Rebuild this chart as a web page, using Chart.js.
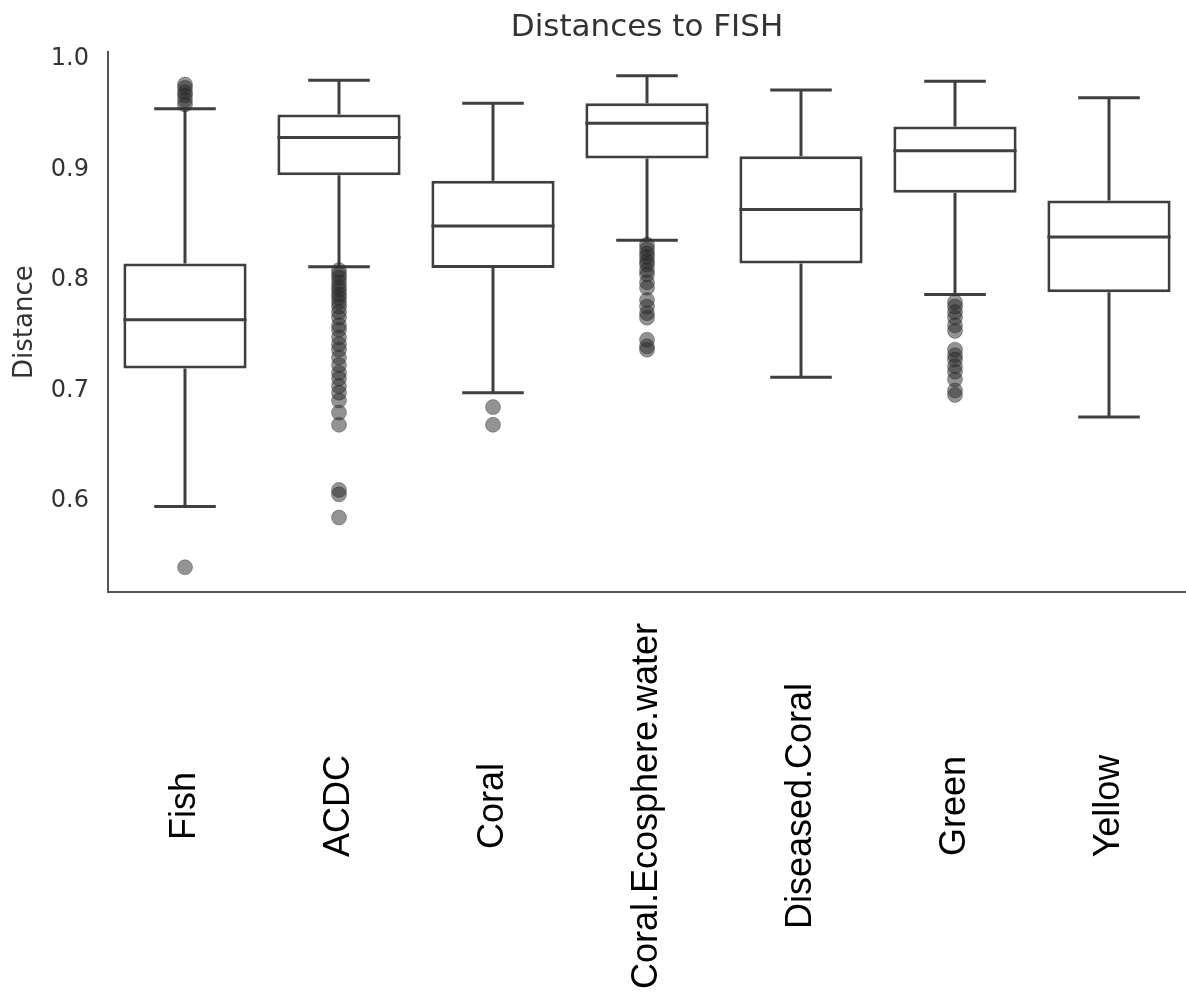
<!DOCTYPE html>
<html>
<head>
<meta charset="utf-8">
<title>Distances to FISH</title>
<script src="https://cdn.jsdelivr.net/npm/chart.js@4.4.1/dist/chart.umd.min.js"></script>
<style>
  html, body { margin: 0; padding: 0; background: #ffffff; }
  #wrap { width: 1186px; height: 1000px; }
</style>
</head>
<body>
<div id="wrap"><canvas id="distChart"></canvas></div>
<script>
// Categories and box statistics
const categories = ['Fish', 'ACDC', 'Coral', 'Coral.Ecosphere.water', 'Diseased.Coral', 'Green', 'Yellow'];
const whiskerLow  = [0.595, 0.812, 0.698, 0.836, 0.712, 0.787, 0.676];
const q1          = [0.720, 0.895, 0.811, 0.910, 0.815, 0.879, 0.789];
const medians     = [0.764, 0.929, 0.849, 0.942, 0.864, 0.917, 0.839];
const q3          = [0.815, 0.950, 0.890, 0.960, 0.912, 0.939, 0.872];
const whiskerHigh = [0.955, 0.981, 0.960, 0.985, 0.972, 0.980, 0.965];

// Outliers per category
const outliersFish = [0.977, 0.974, 0.970, 0.967, 0.963, 0.959, 0.540];
const outliersACDC = [0.809, 0.805, 0.802, 0.798, 0.794, 0.791, 0.787, 0.784, 0.780, 0.776,
                      0.771, 0.766, 0.759, 0.755, 0.748, 0.742, 0.737, 0.730, 0.723, 0.716,
                      0.711, 0.704, 0.698, 0.691, 0.680, 0.669, 0.610, 0.606, 0.585];
const outliersCoral = [0.685, 0.669];
const outliersEcosphere = [0.832, 0.828, 0.824, 0.821, 0.817, 0.814, 0.809, 0.805, 0.798, 0.793,
                           0.782, 0.776, 0.770, 0.766, 0.746, 0.740, 0.737];
const outliersDiseased = [];
const outliersGreen = [0.780, 0.776, 0.771, 0.766, 0.759, 0.754, 0.737, 0.732, 0.728, 0.722,
                       0.717, 0.710, 0.700, 0.696];
const outliersYellow = [];

const yTicks = [0.6, 0.7, 0.8, 0.9, 1.0];
const yMin = 0.5176;
const yMax = 1.0063;

const LINE = '#3f3f3f';
const TEXT = '#333333';

const outlierLists = [outliersFish, outliersACDC, outliersCoral, outliersEcosphere,
                      outliersDiseased, outliersGreen, outliersYellow];
const outlierPoints = [];
outlierLists.forEach((list, i) => {
    list.forEach(v => outlierPoints.push({ x: categories[i], y: v }));
});

/**
 * Whiskers, caps and medians, drawn right after the boxes
 */
const boxExtras = {
    id: 'boxExtras',
    afterDatasetDraw(chart, args) {
        if (args.index !== 0) return;
        const ctx = chart.ctx;
        const xs = chart.scales.x;
        const ys = chart.scales.y;
        const meta = chart.getDatasetMeta(0);
        ctx.save();
        ctx.strokeStyle = LINE;
        ctx.lineWidth = 3;
        ctx.lineCap = 'butt';
        categories.forEach((c, i) => {
            const x = xs.getPixelForValue(i);
            const half = meta.data[i].width / 2;
            const capHalf = half / 2;
            const yLo = ys.getPixelForValue(whiskerLow[i]);
            const yHi = ys.getPixelForValue(whiskerHigh[i]);
            const yQ1 = ys.getPixelForValue(q1[i]);
            const yQ3 = ys.getPixelForValue(q3[i]);
            const yMed = ys.getPixelForValue(medians[i]);
            ctx.beginPath();
            // whiskers
            ctx.moveTo(x, yQ3); ctx.lineTo(x, yHi);
            ctx.moveTo(x, yQ1); ctx.lineTo(x, yLo);
            // caps
            ctx.moveTo(x - capHalf, yHi); ctx.lineTo(x + capHalf, yHi);
            ctx.moveTo(x - capHalf, yLo); ctx.lineTo(x + capHalf, yLo);
            // median
            ctx.moveTo(x - half, yMed); ctx.lineTo(x + half, yMed);
            ctx.stroke();
        });
        ctx.restore();
    }
};

/**
 * Rotated category labels, centred in the space under the axis
 */
const catLabels = {
    id: 'catLabels',
    afterDraw(chart) {
        const ctx = chart.ctx;
        const xs = chart.scales.x;
        const yc = (xs.top + xs.bottom) / 2 + 10;
        ctx.save();
        ctx.fillStyle = '#000000';
        ctx.font = "36px 'Liberation Sans', Arial, sans-serif";
        ctx.textAlign = 'center';
        ctx.textBaseline = 'middle';
        categories.forEach((c, i) => {
            ctx.save();
            ctx.translate(xs.getPixelForValue(i), yc);
            ctx.rotate(-Math.PI / 2);
            ctx.fillText(c, 0, 0);
            ctx.restore();
        });
        ctx.restore();
    }
};

new Chart(document.getElementById('distChart'), {
    type: 'bar',
    data: {
        labels: categories,
        datasets: [
            {
                label: 'box',
                data: q1.map((v, i) => [v, q3[i]]),
                backgroundColor: '#ffffff',
                borderColor: LINE,
                borderWidth: 3,
                borderSkipped: false,
                barPercentage: 0.8,
                categoryPercentage: 1.0,
                order: 1
            },
            {
                type: 'scatter',
                label: 'outliers',
                data: outlierPoints,
                pointRadius: 7.5,
                pointBackgroundColor: 'rgba(40, 40, 40, 0.5)',
                pointBorderColor: 'rgba(40, 40, 40, 0.35)',
                pointBorderWidth: 1,
                order: 0
            }
        ]
    },
    options: {
        responsive: true,
        maintainAspectRatio: false,
        animation: false,
        layout: {
            autoPadding: false, // keep the plot flush with the right edge
            padding: { left: 10, right: 0, top: 0, bottom: 0 }
        },
        plugins: {
            legend: { display: false },
            tooltip: { enabled: false },
            title: {
                display: true,
                text: 'Distances to FISH',
                fullSize: false,
                color: TEXT,
                font: { family: "'DejaVu Sans'", size: 31, weight: 'normal' },
                padding: { top: 9, bottom: 6 }
            }
        },
        scales: {
            x: {
                type: 'category',
                offset: true,
                grid: { display: false, drawTicks: false },
                border: { display: true, color: '#555555', width: 2 },
                ticks: { display: false },
                afterFit(scale) { scale.height = 408; }
            },
            y: {
                min: yMin,
                max: yMax,
                grid: { display: false, drawTicks: false },
                border: { display: true, color: '#555555', width: 2 },
                afterBuildTicks(scale) {
                    scale.ticks = yTicks.map(v => ({ value: v }));
                },
                afterFit(scale) { scale.width = 98; },
                ticks: {
                    color: TEXT,
                    padding: 19,
                    font: { family: "'DejaVu Sans'", size: 24 },
                    callback: v => v.toFixed(1)
                },
                title: {
                    display: true,
                    text: 'Distance',
                    color: TEXT,
                    font: { family: "'DejaVu Sans'", size: 26 },
                    padding: { top: 0, bottom: 0 }
                }
            }
        }
    },
    plugins: [boxExtras, catLabels]
});
</script>
</body>
</html>
